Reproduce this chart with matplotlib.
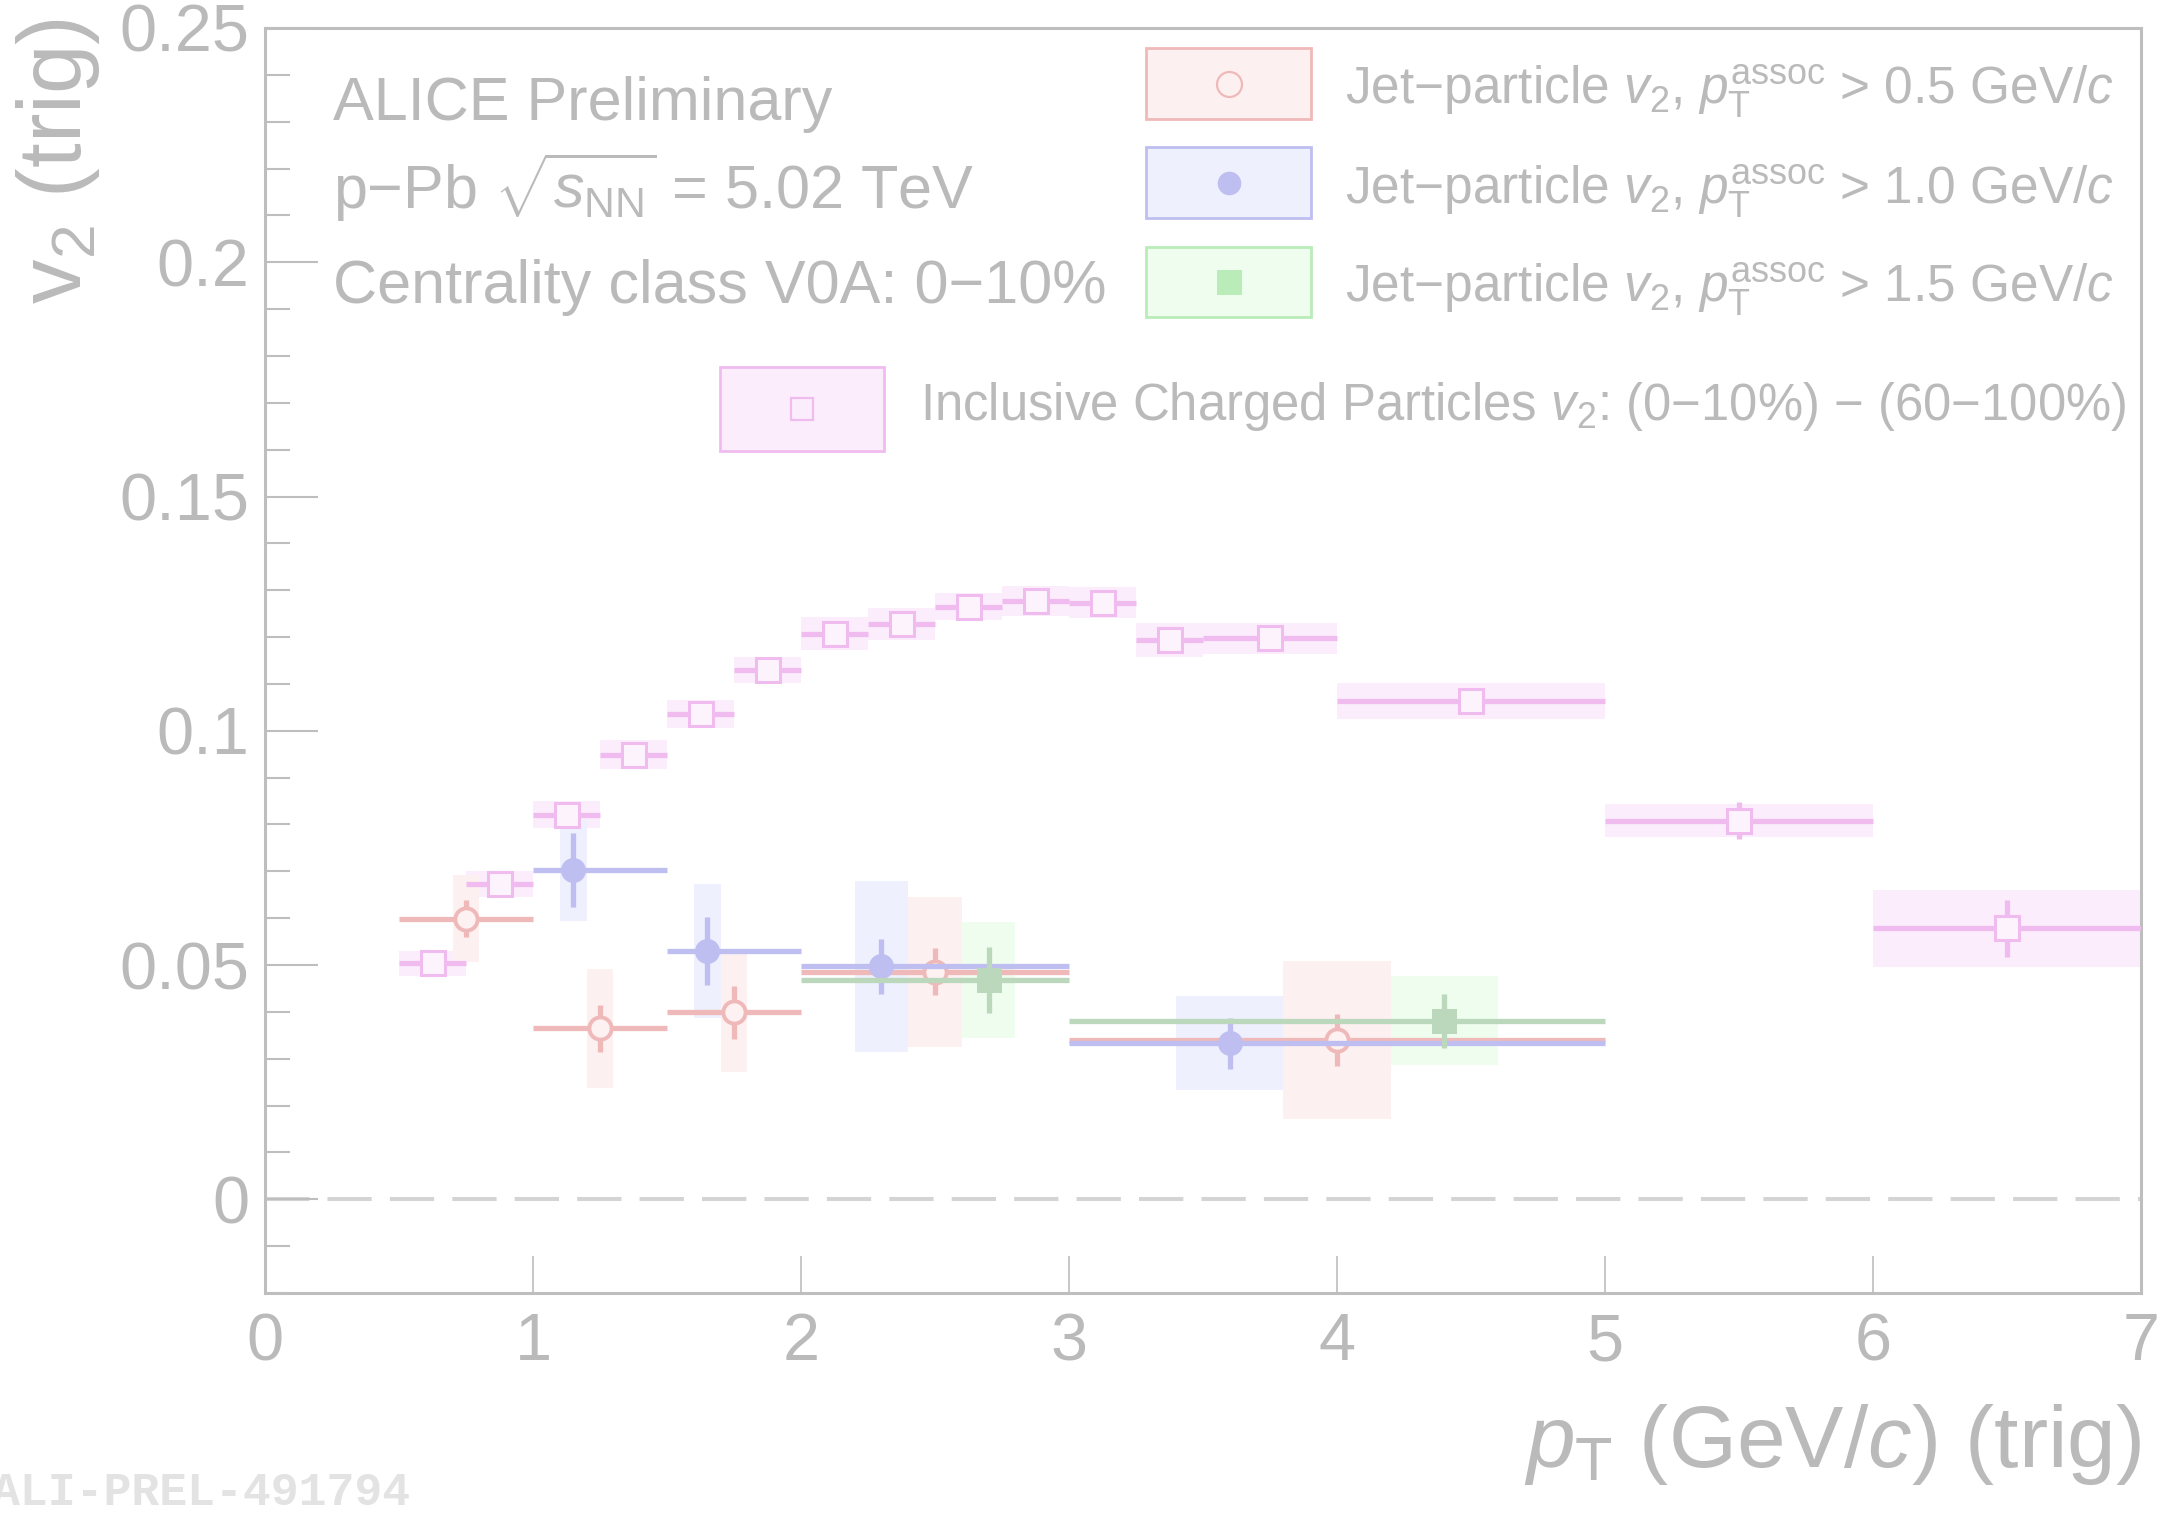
import matplotlib
matplotlib.use("Agg")
import numpy as np
import matplotlib.pyplot as plt
from matplotlib.patches import Rectangle
from matplotlib.lines import Line2D
from matplotlib.ticker import FixedLocator, MultipleLocator

plt.rcParams['font.family'] = ['Liberation Sans', 'DejaVu Sans']
plt.rcParams['mathtext.fontset'] = 'custom'
plt.rcParams['mathtext.rm'] = 'Liberation Sans'
plt.rcParams['mathtext.it'] = 'Liberation Sans:italic'
plt.rcParams['mathtext.bf'] = 'Liberation Sans:bold'

# ---------------------------------------------------------------- data
# Inclusive charged particles v2: (0-10%) - (60-100%)
incl_lo = [0.5, 0.75, 1.0, 1.25, 1.5, 1.75, 2.0, 2.25, 2.5, 2.75, 3.0, 3.25, 3.5, 4.0, 5.0, 6.0]
incl_hi = [0.75, 1.0, 1.25, 1.5, 1.75, 2.0, 2.25, 2.5, 2.75, 3.0, 3.25, 3.5, 4.0, 5.0, 6.0, 7.0]
incl_v2 = [0.0504, 0.0673, 0.0821, 0.0949, 0.1036, 0.1130, 0.1207, 0.1227,
           0.1265, 0.1278, 0.1273, 0.1194, 0.1197, 0.1064, 0.0808, 0.0578]
incl_stat = [0.0008, 0.0008, 0.0008, 0.0008, 0.0008, 0.0008, 0.0008, 0.0008,
             0.0008, 0.0008, 0.0008, 0.0010, 0.0010, 0.0015, 0.0039, 0.0061]
incl_sys = [0.0027, 0.0027, 0.0029, 0.0031, 0.0030, 0.0028, 0.0035, 0.0034,
            0.0029, 0.0032, 0.0033, 0.0037, 0.0033, 0.0038, 0.0035, 0.0082]

# Jet-particle v2, pT assoc > 0.5 GeV/c
jp05_x = [0.75, 1.25, 1.75, 2.5, 4.0]
jp05_lo = [0.5, 1.0, 1.5, 2.0, 3.0]
jp05_hi = [1.0, 1.5, 2.0, 3.0, 5.0]
jp05_v2 = [0.0599, 0.0365, 0.0399, 0.0486, 0.0340]
jp05_stat = [0.0040, 0.0050, 0.0057, 0.0050, 0.0055]
jp05_sys = [0.0093, 0.0127, 0.0127, 0.0160, 0.0169]

# Jet-particle v2, pT assoc > 1.0 GeV/c
jp10_x = [1.15, 1.65, 2.3, 3.6]
jp10_lo = [1.0, 1.5, 2.0, 3.0]
jp10_hi = [1.5, 2.0, 3.0, 5.0]
jp10_v2 = [0.0702, 0.0530, 0.0497, 0.0333]
jp10_stat = [0.0079, 0.0072, 0.0058, 0.0055]
jp10_sys = [0.0109, 0.0144, 0.0182, 0.0100]

# Jet-particle v2, pT assoc > 1.5 GeV/c
jp15_x = [2.7, 4.4]
jp15_lo = [2.0, 3.0]
jp15_hi = [3.0, 5.0]
jp15_v2 = [0.0468, 0.0381]
jp15_stat = [0.0071, 0.0058]
jp15_sys = [0.0124, 0.0095]

y_ticks = [0.0, 0.05, 0.10, 0.15, 0.20, 0.25]
y_tick_labels = ["0", "0.05", "0.1", "0.15", "0.2", "0.25"]
x_ticks = [0, 1, 2, 3, 4, 5, 6, 7]

legend_labels = [
    r"Jet$-$particle $v_{2}$, $p_{\mathrm{T}}^{\mathrm{assoc}}$ > 0.5 GeV/$c$",
    r"Jet$-$particle $v_{2}$, $p_{\mathrm{T}}^{\mathrm{assoc}}$ > 1.0 GeV/$c$",
    r"Jet$-$particle $v_{2}$, $p_{\mathrm{T}}^{\mathrm{assoc}}$ > 1.5 GeV/$c$",
    r"Inclusive Charged Particles $v_{2}$: (0$-$10%) $-$ (60$-$100%)",
]

# ---------------------------------------------------------------- style
W, H, DPI = 2162, 1513, 100
GREY = '#bababa'
AXIS = '#bebebe'

RED, RED_F = '#f0b9b9', '#fdf0f0'
BLUE, BLUE_F = '#bebef0', '#eef0fd'
GREEN, GREEN_F = '#bcd8bc', '#effdef'
MAG, MAG_F = '#f0bcf0', '#fcedfc'


def fx(px):
    return px / W


def fy(py):
    return 1 - py / H


fig = plt.figure(figsize=(W / DPI, H / DPI), dpi=DPI)
ax = fig.add_axes([fx(265), fy(1293), (2141 - 265) / W, (1293 - 28) / H])
ax.set_xlim(0, 7)
ax.set_ylim(-0.02, 0.25)


def draw_series(x, lo, hi, v, stat, sys, box_frac, color, fill, marker, mfc,
                ms, mew, z):
    x = np.asarray(x, float)
    lo = np.asarray(lo, float)
    hi = np.asarray(hi, float)
    v = np.asarray(v, float)
    sys = np.asarray(sys, float)
    width = box_frac * (hi - lo)
    ax.bar(x, 2 * sys, bottom=v - sys, width=width, color=fill,
           edgecolor='none', zorder=1)
    ax.errorbar(x, v, xerr=[x - lo, hi - x], yerr=stat, fmt=marker,
                color=color, ecolor=color, mfc=mfc, mec=color, ms=ms, mew=mew,
                elinewidth=3.8, capsize=0, zorder=z)


# systematic boxes + statistical bars
draw_series((np.asarray(incl_lo) + np.asarray(incl_hi)) / 2, incl_lo, incl_hi,
            incl_v2, incl_stat, incl_sys, 1.0, MAG, MAG_F, 's', '#fdf3fd',
            17.5, 2.2, 3)
draw_series(jp05_x, jp05_lo, jp05_hi, jp05_v2, jp05_stat, jp05_sys, 0.2,
            RED, RED_F, 'o', '#fdf1f1', 16, 2.8, 4)
draw_series(jp10_x, jp10_lo, jp10_hi, jp10_v2, jp10_stat, jp10_sys, 0.2,
            BLUE, BLUE_F, 'o', BLUE, 18, 0, 5)
draw_series(jp15_x, jp15_lo, jp15_hi, jp15_v2, jp15_stat, jp15_sys, 0.2,
            GREEN, GREEN_F, 's', GREEN, 18, 0, 6)

# zero reference line
ax.axhline(0, color='#d4d4d4', lw=2.9, ls=(0, (11, 4.5)), zorder=0.5)

# ---------------------------------------------------------------- axes
for s in ax.spines.values():
    s.set_color(AXIS)
    s.set_linewidth(2.2)

ax.yaxis.set_major_locator(FixedLocator(y_ticks))
ax.set_yticklabels(y_tick_labels)
ax.yaxis.set_minor_locator(MultipleLocator(0.01))
ax.xaxis.set_major_locator(FixedLocator(x_ticks))
ax.set_xticklabels([str(t) for t in x_ticks])
ax.tick_params(axis='y', which='major', direction='in', length=38, width=1.5,
               color=AXIS, labelcolor=GREY, labelsize=48, pad=11)
ax.tick_params(axis='y', which='minor', direction='in', length=18, width=1.5,
               color=AXIS)
ax.tick_params(axis='x', which='major', direction='in', length=27, width=1.2,
               color=AXIS, labelcolor=GREY, labelsize=48, pad=14)
ax.tick_params(axis='x', which='minor', bottom=False)

# axis titles
fig.text(fx(2141), fy(1467), r"$p_{\mathrm{T}}$ (GeV/$c$) (trig)",
         ha='right', va='baseline', fontsize=63, color=GREY)
fig.text(fx(58), fy(18), r"$\mathrm{v}_{2}$ (trig)", rotation=90,
         ha='center', va='top', fontsize=64, color=GREY)

# header text
fig.text(fx(333), fy(120), "ALICE Preliminary", fontsize=44, color=GREY,
         ha='left', va='baseline')
fig.text(fx(333), fy(209), r"p$-$Pb $\sqrt{s_{\mathrm{NN}}}$ = 5.02 TeV",
         fontsize=44, color=GREY, ha='left', va='baseline')
fig.text(fx(333), fy(303), "Centrality class V0A: 0\u221210%", fontsize=44,
         color=GREY, ha='left', va='baseline')

# ---------------------------------------------------------------- legend
legend_rows = [
    # box x0, x1, y0, y1, text x, text baseline
    (1146, 1311, 48, 119, 1345, 104),
    (1146, 1311, 147, 218, 1345, 204),
    (1146, 1311, 247, 317, 1345, 302),
    (720, 884, 367, 451, 920, 420),
]
legend_sizes = [37, 37, 37, 36.6]
legend_styles = [
    dict(ec=RED, fc=RED_F, marker='o', mfc='none', mec=RED, ms=18, mew=1.6),
    dict(ec=BLUE, fc=BLUE_F, marker='o', mfc=BLUE, mec=BLUE, ms=17, mew=0),
    dict(ec='#b9ecb9', fc=GREEN_F, marker='s', mfc='#b9ecb9', mec='#b9ecb9',
         ms=18, mew=0),
    dict(ec=MAG, fc=MAG_F, marker='s', mfc='none', mec=MAG, ms=16, mew=1.6),
]
for (x0, x1, y0, y1, tx, ty), st, lab, fs in zip(legend_rows, legend_styles,
                                                 legend_labels, legend_sizes):
    fig.add_artist(Rectangle((fx(x0), fy(y1)), (x1 - x0) / W, (y1 - y0) / H,
                             transform=fig.transFigure, fc=st['fc'],
                             ec=st['ec'], lw=2.0))
    fig.add_artist(Line2D([fx((x0 + x1) / 2)], [fy((y0 + y1) / 2)],
                          transform=fig.transFigure, marker=st['marker'],
                          mfc=st['mfc'], mec=st['mec'], ms=st['ms'],
                          mew=st['mew'], ls='none'))
    fig.text(fx(tx), fy(ty), lab, fontsize=fs, color=GREY, ha='left',
             va='baseline')

# preliminary figure id
fig.text(fx(410), fy(1505), "ALI-PREL-491794", ha='right', va='baseline',
         family='Liberation Mono', weight='bold', fontsize=33.5, color='#e3e3e3')

fig.savefig("out.png", dpi=DPI, facecolor='white')
